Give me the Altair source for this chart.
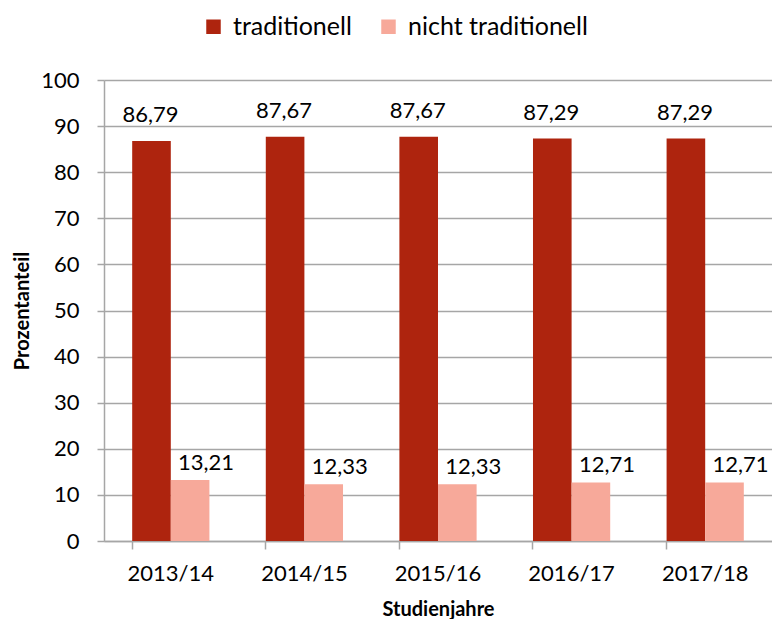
import altair as alt
import pandas as pd

years = ["2013/14", "2014/15", "2015/16", "2016/17", "2017/18"]
series = ["traditionell", "nicht traditionell"]
traditionell = [86.79, 87.67, 87.67, 87.29, 87.29]
nicht_traditionell = [13.21, 12.33, 12.33, 12.71, 12.71]
colors = ["#AE240E", "#F7A99A"]

rows = []
for y, a, b in zip(years, traditionell, nicht_traditionell):
    rows.append({"Jahr": y, "Serie": series[0], "Wert": a, "Label": f"{a:.2f}".replace(".", ",")})
    rows.append({"Jahr": y, "Serie": series[1], "Wert": b, "Label": f"{b:.2f}".replace(".", ",")})
df = pd.DataFrame(rows)

FONT = "Lato"

x = alt.X("Jahr:N", sort=years, title="Studienjahre",
          scale=alt.Scale(paddingInner=0.422, paddingOuter=0.211),
          axis=alt.Axis(labelAngle=0, bandPosition=0, tickSize=8, labelPadding=14,
                        titlePadding=15, titleFontSize=20, titleFontWeight="bold",
                        labelFontSize=22, domainColor="#a6a6a6", tickColor="#a6a6a6",
                        domainWidth=1.5, tickWidth=1.5, grid=False, labelColor="#000000",
                        titleColor="#000000"))
y = alt.Y("Wert:Q", title="Prozentanteil",
          scale=alt.Scale(domain=[0, 100], nice=False),
          axis=alt.Axis(values=list(range(0, 101, 10)), tickSize=7, labelPadding=18,
                        titlePadding=8, titleFontSize=20, titleFontWeight="bold",
                        labelFontSize=22, gridColor="#a6a6a6", gridWidth=1.5,
                        domainColor="#a6a6a6", tickColor="#a6a6a6", domainWidth=1.5,
                        tickWidth=1.5, labelColor="#000000", titleColor="#000000"))
xo = alt.XOffset("Serie:N", sort=series, scale=alt.Scale(domain=series, paddingInner=0, paddingOuter=0))
color = alt.Color("Serie:N", sort=series,
                  scale=alt.Scale(domain=series, range=colors),
                  legend=alt.Legend(title=None, orient="none", direction="horizontal",
                                    legendX=97, legendY=-66, symbolType="square",
                                    symbolSize=210, symbolStrokeWidth=0, labelFontSize=25,
                                    labelOffset=7, columnPadding=24, labelLimit=400,
                                    labelColor="#000000"))

base = alt.Chart(df)
bars = base.mark_bar(opacity=1).encode(x=x, xOffset=xo, y=y, color=color)

txt_a = base.transform_filter(alt.datum.Serie == series[0]).mark_text(
    baseline="alphabetic", align="center", dy=-19, dx=-1, fontSize=22, font=FONT, color="#000000"
).encode(x=alt.X("Jahr:N", sort=years), xOffset=xo, y="Wert:Q", text="Label:N")
txt_b = base.transform_filter(alt.datum.Serie == series[1]).mark_text(
    baseline="alphabetic", align="center", dy=-10, dx=16, fontSize=22, font=FONT, color="#000000"
).encode(x=alt.X("Jahr:N", sort=years), xOffset=xo, y="Wert:Q", text="Label:N")

chart = alt.layer(bars, txt_a, txt_b).properties(
    width=668, height=461,
    autosize=alt.AutoSizeParams(type="none"),
    padding={"left": 96, "top": 72, "right": 0, "bottom": 78},
).configure(font=FONT).configure_view(stroke=None)

chart.save("out.html", embed_options={"renderer": "svg", "actions": False})
